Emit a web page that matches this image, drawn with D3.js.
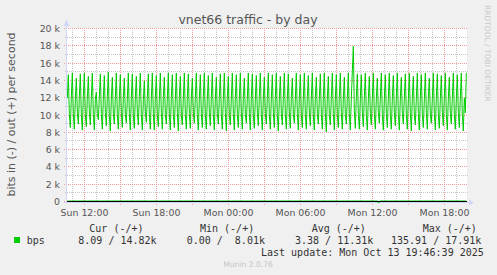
<!DOCTYPE html>
<html><head><meta charset="utf-8">
<script src="https://cdn.jsdelivr.net/npm/d3@7"></script>
<style>body{margin:0;background:#f0f0f0;} svg{display:block}</style>
</head><body>
<svg id="c" width="497" height="275"></svg>
<script>
const chartTitle = "vnet66 traffic - by day";
const yAxisTitle = "bits in (-) / out (+) per second";
const yTickValues = [0, 2000, 4000, 6000, 8000, 10000, 12000, 14000, 16000, 18000, 20000];
const yTickLabels = ["0", "2 k", "4 k", "6 k", "8 k", "10 k", "12 k", "14 k", "16 k", "18 k", "20 k"];
const xTickTimes = ["2025-10-12T12:00", "2025-10-12T18:00", "2025-10-13T00:00", "2025-10-13T06:00", "2025-10-13T12:00", "2025-10-13T18:00"];
const xTickLabels = ["Sun 12:00", "Sun 18:00", "Mon 00:00", "Mon 06:00", "Mon 12:00", "Mon 18:00"];
const viewStart = "2025-10-12T10:33:20";
const viewEnd = "2025-10-13T19:53:20";
const firstSample = "2025-10-12T10:35:00";
const sampleMinutes = 5;
// out (+) in kbit/s, one sample per 5 minutes
const outK = [
11.9,14.6,10.0,8.5, 12.0,14.8,10.1,8.3, 11.8,14.2,10.2,8.9, 12.0,14.7,9.9,8.2, 12.1,14.8,10.0,8.6,
11.9,14.4,10.3,8.8, 12.0,14.8,10.0,8.2, 11.7,12.6,10.1,9.4, 12.0,14.7,10.0,8.3, 11.9,14.5,10.2,8.7,
12.1,14.9,9.9,8.1, 11.8,14.3,10.1,8.9, 12.0,14.8,10.0,8.3, 11.9,14.6,10.2,8.5, 12.0,14.2,10.0,9.0,
11.8,14.8,10.1,8.2, 12.0,14.7,9.9,8.4, 11.9,14.4,10.2,8.8, 12.1,14.8,10.0,8.2, 11.7,13.9,10.3,9.1,
12.0,14.7,10.0,8.3, 11.9,14.8,10.1,8.2, 12.0,14.5,9.9,8.6, 11.8,14.8,10.2,8.3, 12.0,14.3,10.0,8.9,
11.9,14.8,10.1,8.2, 12.0,14.6,10.0,8.5, 11.8,14.8,10.2,8.1, 12.0,14.4,9.9,8.8, 11.9,14.8,10.0,8.3,
12.0,14.7,10.1,8.4, 11.9,14.2,10.2,9.0, 12.0,14.8,10.0,8.2, 11.8,14.6,10.1,8.5, 12.1,14.8,9.9,8.3,
11.9,14.5,10.2,8.7, 12.0,14.8,10.0,8.2, 11.8,14.3,10.1,8.9, 12.0,14.7,10.0,8.3, 11.9,14.8,10.2,8.1,
12.0,14.4,9.9,8.8, 11.9,14.8,10.1,8.2, 12.0,14.6,10.0,8.5, 11.8,14.8,10.2,8.3, 12.0,14.2,10.0,9.0,
11.9,14.8,10.1,8.2, 12.0,14.7,9.9,8.4, 11.8,14.5,10.2,8.7, 12.1,14.8,10.0,8.2, 11.9,14.3,10.1,8.9,
12.0,14.8,10.0,8.3, 11.9,14.6,10.2,8.5, 12.0,14.8,9.9,8.1, 11.8,14.4,10.1,8.8, 12.0,14.8,10.0,8.3,
11.9,14.7,10.2,8.4, 12.0,14.2,10.0,9.0, 11.8,14.8,10.1,8.2, 12.0,14.6,9.9,8.5, 11.9,14.8,10.0,8.3,
12.1,14.5,10.2,8.7, 11.9,14.8,10.0,8.2, 12.0,14.3,10.1,8.9, 11.8,14.7,10.0,8.3, 12.0,14.8,10.2,8.0,
11.9,14.4,9.9,8.8, 12.0,14.8,10.1,8.2, 11.8,14.6,10.0,8.5, 12.0,14.8,10.2,8.3, 11.9,14.3,10.0,8.9,
12.0,14.8,10.1,8.2, 11.9,15.0,17.9,10.3, 8.4,12.0,14.7,10.0, 8.3,11.9,14.6,10.2, 8.6,12.0,14.8,9.9,
8.2,11.8,14.4,10.1, 8.8,12.0,14.8,10.0, 8.3,11.9,14.2,10.2, 9.0,12.0,14.8,10.0, 8.2,11.8,14.6,10.1,
8.5,12.0,14.8,9.9, 8.3,11.9,14.5,10.2, 8.7,12.1,14.8,10.0, 8.2,11.9,14.3,10.1, 8.9,12.0,14.7,10.0,
8.3,11.8,14.8,10.2, 8.1,12.0,14.4,9.9, 8.8,11.9,14.8,10.1, 8.2,12.0,14.6,10.0, 8.5,11.8,14.8,10.2,
8.3,12.0,14.2,10.0, 9.0,11.9,14.8,10.1, 8.2,12.0,14.7,9.9, 8.4,11.8,14.5,10.2, 8.7,12.1,14.8,10.0,
8.2,11.9,14.3,10.1, 8.9,12.0,14.8,10.0, 8.3,11.9,14.6,10.2, 8.5,12.0,14.8,9.9, 8.1,11.9,10.2,14.82
];
// in (-) in bit/s (drawn negative)
const inTimes = ["2025-10-12T10:35", "2025-10-12T18:00", "2025-10-13T06:00", "2025-10-13T12:25", "2025-10-13T12:30", "2025-10-13T12:35", "2025-10-13T12:40", "2025-10-13T19:50"];
const inBps = [3.1, 3.4, 3.2, 3.3, 135.91, 60.2, 3.4, 8.09];
const legendName = "bps";
const legendHeaders = ["Cur (-/+)", "Min (-/+)", "Avg (-/+)", "Max (-/+)"];
const legendValues = ["8.09 / 14.82k", "0.00 /  8.01k", "3.38 / 11.31k", "135.91 / 17.91k"];
const lastUpdate = "Last update: Mon Oct 13 19:46:39 2025";
const footer = "Munin 2.0.76";
const sideText = "RRDTOOL / TOBI OETIKER";

const svg = d3.select("#c");
const X0 = 67, X1 = 467, Y0 = 28, Y1 = 201;
const x = d3.scaleTime().domain([new Date(viewStart), new Date(viewEnd)]).range([X0, X1]);
const y = d3.scaleLinear().domain([0, 20000]).range([Y1, Y0]);

svg.append("rect").attr("width", 497).attr("height", 275).attr("fill", "#f0f0f0");
svg.append("rect").attr("x", X0).attr("y", Y0).attr("width", X1 - X0).attr("height", Y1 - Y0 + 1).attr("fill", "#fff");

const sans = "'DejaVu Sans', sans-serif";
const mono = "'DejaVu Sans Mono', monospace";
const gMinor = "#c8c8c8", gMajor = "#ef9a9a";

// vertical grid
const hours = d3.timeHour.range(x.domain()[0], x.domain()[1]);
hours.forEach(h => {
  const px = Math.round(x(h)) + 0.5;
  const major = h.getHours() % 3 === 0;
  svg.append("line").attr("x1", px).attr("x2", px).attr("y1", Y0).attr("y2", Y1 + (major ? 4 : 2))
    .attr("stroke", major ? gMajor : gMinor).attr("stroke-dasharray", "1,1").attr("stroke-width", 1);
});
// horizontal grid
d3.range(0, 20001, 1000).forEach(v => {
  const py = Math.round(y(v)) + 0.5;
  const major = v % 2000 === 0;
  svg.append("line").attr("x1", X0 - (major ? 3 : 2)).attr("x2", X1 + 1).attr("y1", py).attr("y2", py)
    .attr("stroke", major ? gMajor : gMinor).attr("stroke-dasharray", "1,1").attr("stroke-width", 1);
});

// axes (rrdtool style light blue)
const axisCol = "#cfd6f8";
svg.append("line").attr("x1", 66.5).attr("x2", 66.5).attr("y1", 203).attr("y2", 25).attr("stroke", axisCol);
svg.append("path").attr("d", "M63.5,26 L69.5,26 L66.5,20 Z").attr("fill", axisCol);
svg.append("line").attr("x1", 64).attr("x2", 470).attr("y1", 202.5).attr("y2", 202.5).attr("stroke", axisCol);
svg.append("path").attr("d", "M469,199.5 L469,205.5 L474,202.5 Z").attr("fill", axisCol);

// data
const t0 = new Date(firstSample);
const outData = outK.map((v, i) => ({ t: d3.timeMinute.offset(t0, i * sampleMinutes), v: v * 1000 }));
const inData = inTimes.map((s, i) => ({ t: new Date(s), v: -inBps[i] }));
svg.append("clipPath").attr("id", "cp").append("rect").attr("x", X0).attr("y", Y0 - 1).attr("width", X1 - X0).attr("height", Y1 - Y0 + 6);
const line = d3.line().x(d => x(d.t)).y(d => y(d.v));
const g = svg.append("g").attr("clip-path", "url(#cp)");
g.append("path").datum(inData).attr("d", line).attr("fill", "none").attr("stroke", "#00cc00").attr("stroke-width", 1.2);
svg.append("line").attr("x1", X0).attr("x2", X1).attr("y1", Math.round(y(0)) + 0.5).attr("y2", Math.round(y(0)) + 0.5).attr("stroke", "#000");
// small in-spike mark
g.append("path").datum(inData.filter(d => d.v < -50)).attr("d", line).attr("fill", "none").attr("stroke", "#00cc00").attr("stroke-width", 2);
g.append("path").datum(outData).attr("d", line).attr("fill", "none").attr("stroke", "#00cc00").attr("stroke-width", 1);

// y labels
yTickValues.forEach((v, i) => {
  svg.append("text").attr("x", 60).attr("y", Math.round(y(v)) + 0.5).attr("dy", "0.36em")
    .attr("text-anchor", "end").attr("font-family", sans).attr("font-size", 9.4).attr("fill", "#555").text(yTickLabels[i]);
});
// x labels
xTickTimes.forEach((s, i) => {
  svg.append("text").attr("x", Math.round(x(new Date(s))) + 0.5).attr("y", 216)
    .attr("text-anchor", "middle").attr("font-family", sans).attr("font-size", 9.4).attr("fill", "#555").text(xTickLabels[i]);
});
// title
svg.append("text").attr("x", 248).attr("y", 24).attr("text-anchor", "middle").attr("font-family", sans)
  .attr("font-size", 12.5).attr("fill", "#555").text(chartTitle);
// y-axis title
svg.append("text").attr("transform", "translate(14.5,114.5) rotate(-90)").attr("text-anchor", "middle")
  .attr("font-family", sans).attr("font-size", 11).attr("fill", "#555").text(yAxisTitle);
// side text
svg.append("text").attr("transform", "translate(485,5) rotate(90)").attr("text-anchor", "start")
  .attr("font-family", sans).attr("font-size", 7.5).attr("fill", "#c8c8c8").text(sideText);

// legend
const legHX = [89.3, 200, 311.7, 422.7];
const legVX = [78.3, 186.7, 295, 391];
const legCol = "#333";
legendHeaders.forEach((s, i) => {
  svg.append("text").attr("x", legHX[i]).attr("y", 232).attr("font-family", mono).attr("font-size", 10)
    .attr("fill", legCol).attr("xml:space", "preserve").style("white-space", "pre").text(s);
});
svg.append("rect").attr("x", 14).attr("y", 237).attr("width", 6).attr("height", 6).attr("fill", "#00cc00");
svg.append("text").attr("x", 26.7).attr("y", 243.5).attr("font-family", mono).attr("font-size", 10).attr("fill", legCol).text(legendName);
legendValues.forEach((s, i) => {
  svg.append("text").attr("x", legVX[i]).attr("y", 243.5).attr("font-family", mono).attr("font-size", 10)
    .attr("fill", legCol).attr("xml:space", "preserve").style("white-space", "pre").text(s);
});
svg.append("text").attr("x", 261).attr("y", 255.5).attr("font-family", mono).attr("font-size", 10)
  .attr("fill", legCol).text(lastUpdate);
svg.append("text").attr("x", 248).attr("y", 267).attr("text-anchor", "middle").attr("font-family", sans)
  .attr("font-size", 7.6).attr("fill", "#c4c4c4").text(footer);
</script>
</body></html>
